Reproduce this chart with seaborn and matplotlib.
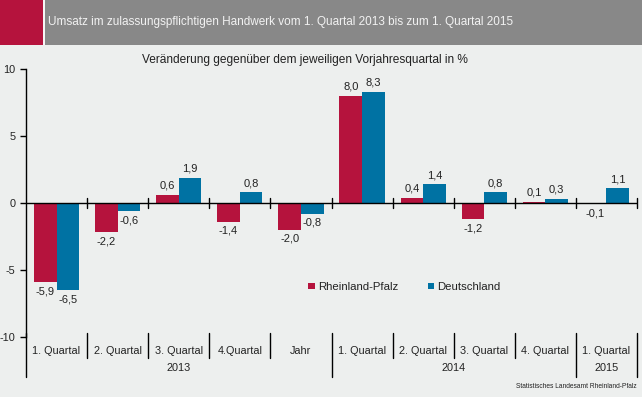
import matplotlib
matplotlib.use("Agg")
import matplotlib.pyplot as plt
from matplotlib.patches import Rectangle
import pandas as pd
import seaborn as sns

# data
quarters = ["1. Quartal", "2. Quartal", "3. Quartal", "4.Quartal", "Jahr",
            "1. Quartal", "2. Quartal", "3. Quartal", "4. Quartal", "1. Quartal"]
years = ["2013", "2014", "2015"]
year_spans = [(0, 4), (5, 8), (9, 9)]
rlp = [-5.9, -2.2, 0.6, -1.4, -2.0, 8.0, 0.4, -1.2, 0.1, -0.1]
de = [-6.5, -0.6, 1.9, 0.8, -0.8, 8.3, 1.4, 0.8, 0.3, 1.1]
series = ["Rheinland-Pfalz", "Deutschland"]
y_ticks = [-10, -5, 0, 5, 10]

bg = "#edefee"
red = "#b5133d"
blue = "#0072a3"
ink = "#222222"

sns.set_theme(style="white")
plt.rcParams["font.family"] = ["Liberation Sans", "DejaVu Sans"]

# long table for seaborn, slot index keeps repeated quarter names apart
rows = []
for i in range(len(quarters)):
    rows.append({"slot": i, "series": series[0], "value": rlp[i]})
    rows.append({"slot": i, "series": series[1], "value": de[i]})
df = pd.DataFrame(rows)

W, H = 642, 397
fig = plt.figure(figsize=(W / 100, H / 100), dpi=100, facecolor=bg)
ax = fig.add_axes([26 / W, 1 - 337 / H, (637 - 26) / W, (337 - 69) / H])
ax.set_facecolor(bg)

sns.barplot(data=df, x="slot", y="value", hue="series", order=list(range(len(quarters))),
            hue_order=series, palette=[red, blue], width=0.74, gap=0,
            saturation=1, errorbar=None, linewidth=0, edgecolor="none", ax=ax)

ax.set_xlim(-0.5, len(quarters) - 0.5)
ax.set_ylim(-10, 10)
ax.set_yticks(y_ticks)
ax.set_yticklabels([str(t) for t in y_ticks], fontsize=7.8, color=ink)
ax.set_xticks([])
ax.set_xlabel("")
ax.set_ylabel("")
ax.tick_params(axis="y", left=True, length=4, width=1, color="black", pad=3.5)
for s in ["top", "right", "bottom"]:
    ax.spines[s].set_visible(False)
ax.spines["left"].set_color("black")
ax.spines["left"].set_linewidth(1)

# zero line with boundary ticks
ax.axhline(0, color="black", lw=1, zorder=3)
for b in range(len(quarters)):
    ax.plot([b + 0.5, b + 0.5], [-0.35, 0.35], color="black", lw=1, zorder=3, clip_on=False)

# value labels
for cont in ax.containers:
    for bar in cont:
        v = bar.get_height()
        x = bar.get_x() + bar.get_width() / 2
        txt = f"{v:.1f}".replace(".", ",")
        if v >= 0:
            ax.annotate(txt, (x, v), xytext=(0, 3), textcoords="offset points",
                        ha="center", va="bottom", fontsize=8, color=ink)
        else:
            ax.annotate(txt, (x, v), xytext=(0, -3), textcoords="offset points",
                        ha="center", va="top", fontsize=8, color=ink)

# category axis below the plot
trans = ax.get_xaxis_transform()
long_bounds = [-0.5, 4.5, 8.5, 9.5]
for b in range(len(quarters) + 1):
    xb = b - 0.5
    y_end = -0.149 if xb in long_bounds else -0.078
    ax.plot([xb, xb], [0.015, y_end], transform=trans, color="black", lw=1, clip_on=False)
for i, q in enumerate(quarters):
    ax.text(i, -0.052, q, transform=trans, ha="center", va="center", fontsize=7.8, color=ink)
for yr, (a, b) in zip(years, year_spans):
    ax.text((a + b) / 2, -0.116, yr, transform=trans, ha="center", va="center",
            fontsize=7.8, color=ink)

leg = ax.legend(ncol=2, loc="center left", bbox_to_anchor=(298 / W, 1 - 287 / H),
                bbox_transform=fig.transFigure, frameon=False, fontsize=8.2,
                handlelength=0.55, handleheight=0.55, handletextpad=0.3, columnspacing=2.6)
for t in leg.get_texts():
    t.set_color(ink)

# header band: red block, thin light gap, grey bar
fig.patches.append(Rectangle((0, 1 - 45 / H), 1, 45 / H, transform=fig.transFigure,
                             facecolor="#f6f6f6", edgecolor="none"))
fig.patches.append(Rectangle((0, 1 - 45 / H), 43 / W, 45 / H, transform=fig.transFigure,
                             facecolor=red, edgecolor="none"))
fig.patches.append(Rectangle((45 / W, 1 - 45 / H), 1 - 45 / W, 45 / H, transform=fig.transFigure,
                             facecolor="#888888", edgecolor="none"))
fig.text(48 / W, 1 - 22 / H, "Umsatz im zulassungspflichtigen Handwerk vom 1. Quartal 2013 bis zum 1. Quartal 2015",
         ha="left", va="center", fontsize=8.5, color="#f2f2f2")
fig.text(305 / W, 1 - 60 / H, "Veränderung gegenüber dem jeweiligen Vorjahresquartal in %",
         ha="center", va="center", fontsize=8.6, color=ink)
fig.text(637 / W, 1 - 386 / H, "Statistisches Landesamt Rheinland-Pfalz",
         ha="right", va="center", fontsize=4.8, color=ink)

fig.savefig("out.png", dpi=100, facecolor=bg)
